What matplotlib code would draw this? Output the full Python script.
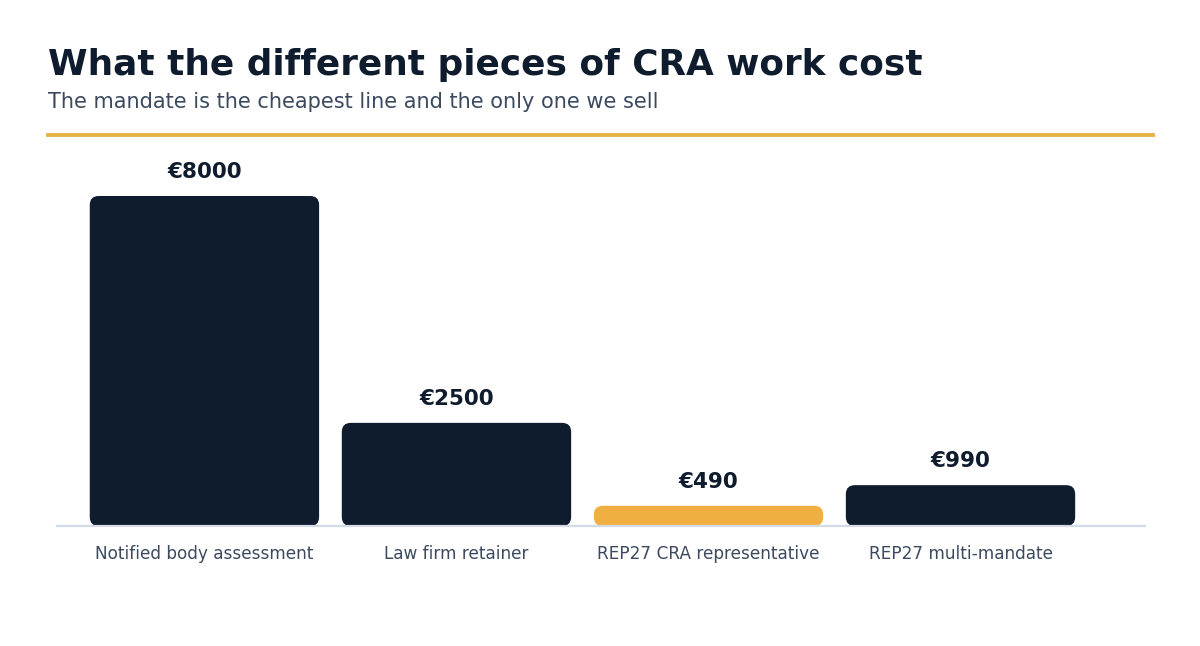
import matplotlib
matplotlib.use("Agg")
import matplotlib.pyplot as plt
from matplotlib.patches import FancyBboxPatch
from matplotlib.lines import Line2D

plt.rcParams["font.family"] = ["DejaVu Sans"]

NAVY = "#0f1c2e"
ORANGE = "#f0b041"
SLATE = "#3b4a5f"

categories = ["Notified body assessment", "Law firm retainer",
              "REP27 CRA representative", "REP27 multi-mandate"]
costs = [8000, 2500, 490, 990]
highlight = [False, False, True, False]

W, H = 1200, 646
fig = plt.figure(figsize=(W / 100, H / 100), dpi=100)

# axes placed in pixel terms of the reference
ax_left, ax_right, ax_bottom, ax_top = 57, 1145, 526, 140
ax = fig.add_axes([ax_left / W, 1 - ax_bottom / H,
                   (ax_right - ax_left) / W, (ax_bottom - ax_top) / H])

ymax = 9357
ax.set_xlim(-0.585, len(categories) - 1 + 0.732)
ax.set_ylim(0, ymax)

bar_w = 0.91
px_x = (ax_right - ax_left) / (ax.get_xlim()[1] - ax.get_xlim()[0])
px_y = (ax_bottom - ax_top) / ymax
radius = 9 / px_x

for i, (val, hl) in enumerate(zip(costs, highlight)):
    r = min(radius, val * px_y / 2 / px_x)
    patch = FancyBboxPatch((i - bar_w / 2, 0), bar_w, val,
                           boxstyle=f"round,pad=0,rounding_size={r}",
                           mutation_aspect=px_x / px_y,
                           facecolor=ORANGE if hl else NAVY,
                           edgecolor="none", zorder=2)
    ax.add_patch(patch)
    ax.annotate(f"€{val}", (i, val), xytext=(0, 10), textcoords="offset points",
                ha="center", va="bottom", fontsize=15.5, fontweight="bold",
                color=NAVY)

ax.axhline(0, color="#d3dbe6", linewidth=1.6, zorder=3, clip_on=False)
ax.set_xticks(range(len(categories)))
ax.set_xticklabels(categories, fontsize=12.2, color=SLATE)
ax.tick_params(axis="x", length=0, pad=14)
ax.set_yticks([])
for s in ax.spines.values():
    s.set_visible(False)

fig.text(48 / W, 1 - 75 / H, "What the different pieces of CRA work cost",
         fontsize=25.8, fontweight="bold", color=NAVY, ha="left", va="baseline")
fig.text(48 / W, 1 - 108 / H, "The mandate is the cheapest line and the only one we sell",
         fontsize=15, color=SLATE, ha="left", va="baseline")
fig.add_artist(Line2D([48 / W, 1153 / W], [1 - 135 / H, 1 - 135 / H],
                      color="#e6b347", linewidth=2.8))

fig.savefig("out.png", dpi=100)
